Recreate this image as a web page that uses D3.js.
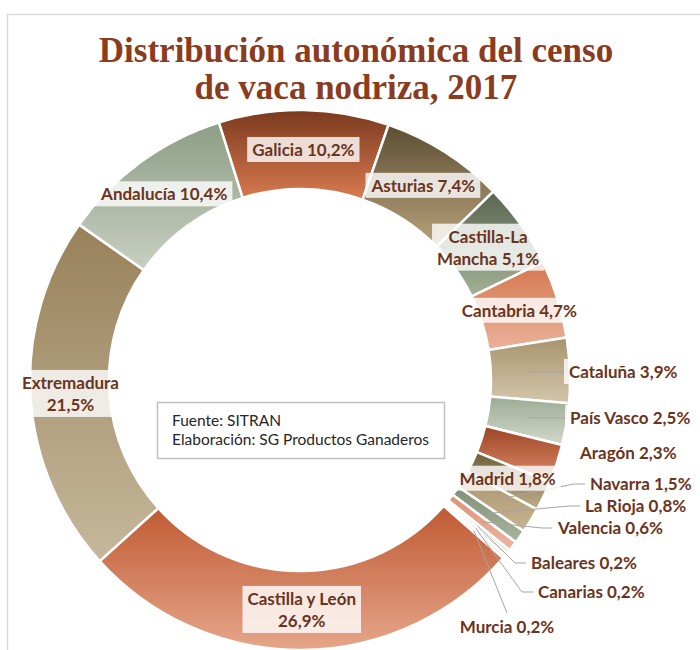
<!DOCTYPE html>
<html>
<head>
<meta charset="utf-8">
<script src="https://cdn.jsdelivr.net/npm/d3@7"></script>
<style>
  body { margin: 0; background: #fff; }
  svg { display: block; }
</style>
</head>
<body>
<div id="chart"></div>
<script>
// Data
const regions = ["Galicia", "Asturias", "Castilla-La Mancha", "Cantabria", "Cataluña",
    "País Vasco", "Aragón", "Madrid", "Navarra", "La Rioja", "Valencia", "Baleares",
    "Canarias", "Murcia", "Castilla y León", "Extremadura", "Andalucía"];
const shares = [10.2, 7.4, 5.1, 4.7, 3.9, 2.5, 2.3, 1.8, 1.5, 0.8, 0.6, 0.2, 0.2, 0.2, 26.9, 21.5, 10.4];
const titleLines = ["Distribución autonómica del censo", "de vaca nodriza, 2017"];
const sourceLines = ["Fuente: SITRAN", "Elaboración: SG Productos Ganaderos"];

// Slice colours (top and bottom of the vertical gradient)
const topColors = ["#7a3a1e", "#5c4d33", "#5a6650", "#d5764e", "#a8936e", "#9dab93", "#9a4526",
    "#6e5f3c", "#a8926a", "#7f8f76", "#dd9276", "#cfc0a3", "#bcc5b5", "#d9cdb5", "#bf5a33", "#98815a", "#8e9e85"];
const bottomColors = ["#d97a50", "#b9a37c", "#a3b196", "#eab29a", "#d4c6ab", "#d2d9cc", "#e08c68",
    "#c0ad88", "#c8b593", "#a8b59e", "#eab8a3", "#ddd2bc", "#d2d8cc", "#e6ddcb", "#e6a68a", "#c6b89c", "#c8cfc2"];

// Dimensions
const dim = { width: 700, height: 650 };
const center = { x: 300, y: 380 };
const radius = { outer: 270, inner: 191, label: 230 };
const startAngle = -17.5 * Math.PI / 180;

// Multi-line labels
const labelBreaks = {
    "Castilla-La Mancha": ["Castilla-La", "Mancha"],
    "Castilla y León": ["Castilla y León", ""],
    "Extremadura": ["Extremadura", ""]
};

// Labels placed outside the ring: offset of text start from the centre, and leader style
const outside = {
    "Cataluña":   { dx: 269, dy: -8,  leader: "straight" },
    "País Vasco": { dx: 270, dy: 38,  leader: "straight" },
    "Aragón":     { dx: 280, dy: 73,  leader: "none" },
    "Navarra":    { dx: 290, dy: 104, leader: "elbow" },
    "La Rioja":   { dx: 285, dy: 126, leader: "elbow" },
    "Valencia":   { dx: 258, dy: 148, leader: "elbow" },
    "Baleares":   { dx: 231, dy: 183, leader: "elbow" },
    "Canarias":   { dx: 238, dy: 212, leader: "elbow" },
    "Murcia":     { dx: 207, dy: 247, leader: "top", anchor: "middle" }
};

const data = regions.map((name, i) => ({ name, share: shares[i], i }));
const fmt = v => d3.format(".1f")(v).replace(".", ",") + "%";

const svg = d3.select("#chart").append("svg")
    .attr("width", dim.width)
    .attr("height", dim.height);

// gradients
const defs = svg.append("defs");
data.forEach(d => {
    const g = defs.append("linearGradient")
        .attr("id", "grad" + d.i)
        .attr("x1", 0).attr("y1", 0).attr("x2", 0).attr("y2", 1);
    g.append("stop").attr("offset", "0%").attr("stop-color", topColors[d.i]);
    g.append("stop").attr("offset", "100%").attr("stop-color", bottomColors[d.i]);
});

// outer frame
svg.append("rect")
    .attr("x", 7.5).attr("y", 14.5)
    .attr("width", 800).attr("height", 800)
    .attr("fill", "none")
    .attr("stroke", "#d9d9d9")
    .attr("stroke-width", 1.5);

// title
svg.append("g").selectAll("text")
    .data(titleLines)
    .join("text")
    .attr("x", 356)
    .attr("y", (d, i) => 62 + i * 37)
    .attr("text-anchor", "middle")
    .attr("font-family", "'Liberation Serif', 'DejaVu Serif', serif")
    .attr("font-weight", "bold")
    .attr("font-size", 35)
    .attr("fill", "#8b3c1e")
    .text(d => d);

const pie = d3.pie()
    .sort(null)
    .value(d => d.share)
    .startAngle(startAngle)
    .endAngle(startAngle + 2 * Math.PI);

const arc = d3.arc().innerRadius(radius.inner).outerRadius(radius.outer);
const labelArc = d3.arc().innerRadius(radius.label).outerRadius(radius.label);

const arcs = pie(data);

const chart = svg.append("g")
    .attr("transform", `translate(${center.x},${center.y})`);

// slices
chart.append("g").selectAll("path")
    .data(arcs)
    .join("path")
    .attr("d", arc)
    .attr("fill", d => `url(#grad${d.data.i})`)
    .attr("stroke", "#fff")
    .attr("stroke-width", 2.5);

// source box
const note = svg.append("g");
note.append("rect")
    .attr("x", 157.5).attr("y", 402.5)
    .attr("width", 287).attr("height", 56)
    .attr("fill", "#fff")
    .attr("stroke", "#bfbfbf")
    .attr("stroke-width", 1.5);
note.selectAll("text")
    .data(sourceLines)
    .join("text")
    .attr("x", 172)
    .attr("y", (d, i) => 426 + i * 19)
    .attr("font-family", "Lato, sans-serif")
    .attr("font-size", 15.5)
    .attr("fill", "#262626")
    .text(d => d);

// leader lines
const leaders = chart.append("g");
arcs.forEach(a => {
    const o = outside[a.data.name];
    if (!o || o.leader === "none") return;
    const [cx, cy] = labelArc.centroid(a);
    let pts;
    if (o.leader === "straight") pts = [[cx, cy], [o.dx - 4, o.dy]];
    else if (o.leader === "elbow") pts = [[cx, cy], [o.dx - 16, o.dy], [o.dx - 5, o.dy]];
    else pts = [[cx, cy], [o.dx, o.dy - 14]];
    leaders.append("path")
        .attr("d", d3.line()(pts))
        .attr("fill", "none")
        .attr("stroke", "#a6a6a6")
        .attr("stroke-width", 1);
});

// labels
const labels = chart.append("g").selectAll("g")
    .data(arcs)
    .join("g");

labels.each(function (a) {
    const g = d3.select(this);
    const name = a.data.name;
    const value = fmt(a.data.share);
    const br = labelBreaks[name];
    const lines = br ? [br[0], (br[1] ? br[1] + " " : "") + value] : [name + " " + value];
    const o = outside[name];
    let x, y, anchor;
    if (o) {
        x = o.dx; y = o.dy; anchor = o.anchor || "start";
    } else {
        [x, y] = labelArc.centroid(a); anchor = "middle";
    }
    const lh = 22;
    const bg = g.append("rect").attr("fill", "rgba(255,255,255,0.8)");
    const t = g.append("text")
        .attr("text-anchor", anchor)
        .attr("font-family", "Lato, sans-serif")
        .attr("font-weight", "bold")
        .attr("font-size", 17)
        .attr("fill", "#6b3420");
    lines.forEach((l, k) => {
        t.append("tspan")
            .attr("x", x)
            .attr("y", y + (k - (lines.length - 1) / 2) * lh)
            .attr("dy", "0.35em")
            .text(l);
    });
    const bb = t.node().getBBox();
    bg.attr("x", bb.x - 5).attr("y", bb.y - 2)
        .attr("width", bb.width + 10).attr("height", bb.height + 4);
});
</script>
</body>
</html>
